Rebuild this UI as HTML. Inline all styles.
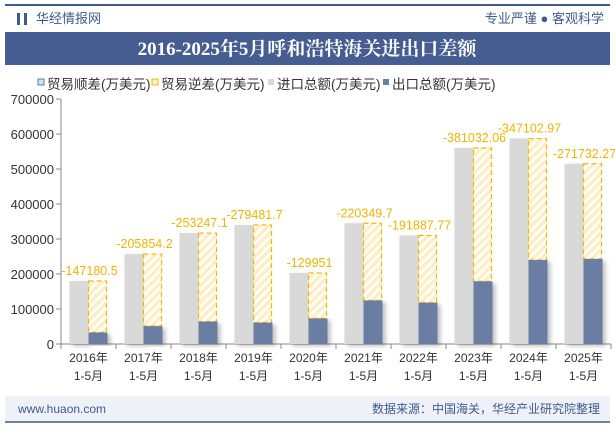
<!DOCTYPE html>
<html><head><meta charset="utf-8">
<style>
body{margin:0;width:615px;height:427px;background:#fff;overflow:hidden;font-family:"Liberation Sans","Noto Sans CJK SC",sans-serif;}
</style></head>
<body>
<svg width="615" height="427" xmlns="http://www.w3.org/2000/svg">
<defs>
<pattern id="hatch" width="6" height="6" patternUnits="userSpaceOnUse" patternTransform="rotate(45)">
<rect width="6" height="6" fill="#fffdf7"/><rect width="3" height="6" fill="#fcedc4"/>
</pattern>
<filter id="sh" x="-20%" y="-5%" width="160%" height="120%"><feDropShadow dx="3" dy="2" stdDeviation="2" flood-color="#000" flood-opacity="0.25"/></filter>
</defs>
<rect x="0" y="0" width="615" height="427" fill="#fff"/>
<line x1="5" y1="5" x2="610" y2="5" stroke="#3f5a8c" stroke-width="2"/>
<rect x="17" y="13" width="3" height="12" fill="#3f5a8c"/><rect x="24" y="13" width="3" height="12" fill="#3f5a8c"/>
<text x="36" y="23" font-size="13" fill="#3f5a8c">华经情报网</text>
<text x="604" y="23" font-size="13" fill="#3f5a8c" text-anchor="end">专业严谨 ● 客观科学</text>
<rect x="5" y="32" width="605" height="33" fill="#455d91"/>
<text x="307" y="55" font-size="19" font-weight="bold" fill="#fff" text-anchor="middle" font-family="'Liberation Serif','Noto Serif CJK SC',serif">2016-2025年5月呼和浩特海关进出口差额</text>
<g font-size="13.5" fill="#333">
<g><rect x="38" y="79" width="6" height="6" fill="#cfe0ee" stroke="#5a7fa6"/><text x="47" y="89">贸易顺差(万美元)</text></g>
<g><rect x="152" y="79" width="6" height="6" fill="#fff3cc" stroke="#f0b400"/><text x="161" y="89">贸易逆差(万美元)</text></g>
<g><rect x="268" y="79" width="6" height="6" fill="#d8d8d8"/><text x="277" y="89">进口总额(万美元)</text></g>
<g><rect x="383" y="79" width="6" height="6" fill="#6a7ea3"/><text x="392" y="89">出口总额(万美元)</text></g>
</g>
<g id="plot"></g>
<rect x="5" y="396" width="605" height="26" fill="#eef1f7"/>
<line x1="5" y1="422" x2="610" y2="422" stroke="#3f5a8c" stroke-width="1.5"/>
<text x="18" y="413" font-size="12" fill="#3f5a8c">www.huaon.com</text>
<text x="600" y="413" font-size="12" fill="#3f5a8c" text-anchor="end">数据来源：中国海关，华经产业研究院整理</text>
</svg>
<script>
const categories=["2016年","2017年","2018年","2019年","2020年","2021年","2022年","2023年","2024年","2025年"];
const importVals=[180,257,317,340,203,345,310,560,587,515];
const exportVals=[33,51,64,61,73,124.5,118,179,240,243];
const deficitLabels=["-147180.5","-205854.2","-253247.1","-279481.7","-129951","-220349.7","-191887.77","-381032.06","-347102.97","-271732.27"];
const yTicks=[0,100000,200000,300000,400000,500000,600000,700000];
const NS="http://www.w3.org/2000/svg";
const g=document.getElementById('plot');
const x0=61,step=55,y0=344,yTop=99,yMax=700000;
const Y=v=>y0-v/yMax*(y0-yTop);
const X=i=>x0+i*step;
function el(t,a,p){const e=document.createElementNS(NS,t);for(const k in a)e.setAttribute(k,a[k]);(p||g).appendChild(e);return e;}
el('line',{x1:x0,y1:yTop,x2:x0,y2:y0,stroke:'#888'});
el('line',{x1:x0,y1:y0,x2:611,y2:y0,stroke:'#888'});
yTicks.forEach(v=>{
 el('line',{x1:x0-5,y1:Y(v),x2:x0,y2:Y(v),stroke:'#888'});
 const t=el('text',{x:x0-7,y:Y(v)+5,'font-size':13,fill:'#333','text-anchor':'end'});
 t.textContent=v;
 
 
});
for(let i=0;i<=categories.length;i++) el('line',{x1:X(i),y1:y0,x2:X(i),y2:y0+5,stroke:'#888'});
categories.forEach((c,i)=>{
 const cx=X(i)+step/2;
 const imp=importVals[i]*1000,exp=exportVals[i]*1000;
 const r1=el('rect',{x:cx-19,y:Y(imp),width:19,height:y0-Y(imp),fill:'#d9d9d9',filter:'url(#sh)'});
 
 
 const r3=el('rect',{x:cx,y:Y(imp),width:18,height:Y(exp)-Y(imp),fill:'url(#hatch)',stroke:'#f5b800','stroke-dasharray':'5,3','stroke-width':1.2});
 
 
 const r2=el('rect',{x:cx,y:Y(exp),width:19,height:y0-Y(exp),fill:'#6a7ea3',filter:'url(#sh)'});
 
 
 const lb=el('text',{x:cx+1,y:Y(imp)-6,'font-size':12.5,fill:'#f0b400','text-anchor':'middle'});
 lb.textContent=deficitLabels[i];
 
 
 const t1=el('text',{x:cx,y:362,'font-size':12,fill:'#333','text-anchor':'middle'});
 t1.textContent=c;
 
 
 const t2=el('text',{x:cx,y:380,'font-size':12,fill:'#333','text-anchor':'middle'});
 t2.textContent='1-5月';
 
 
});
</script>
</body></html>
